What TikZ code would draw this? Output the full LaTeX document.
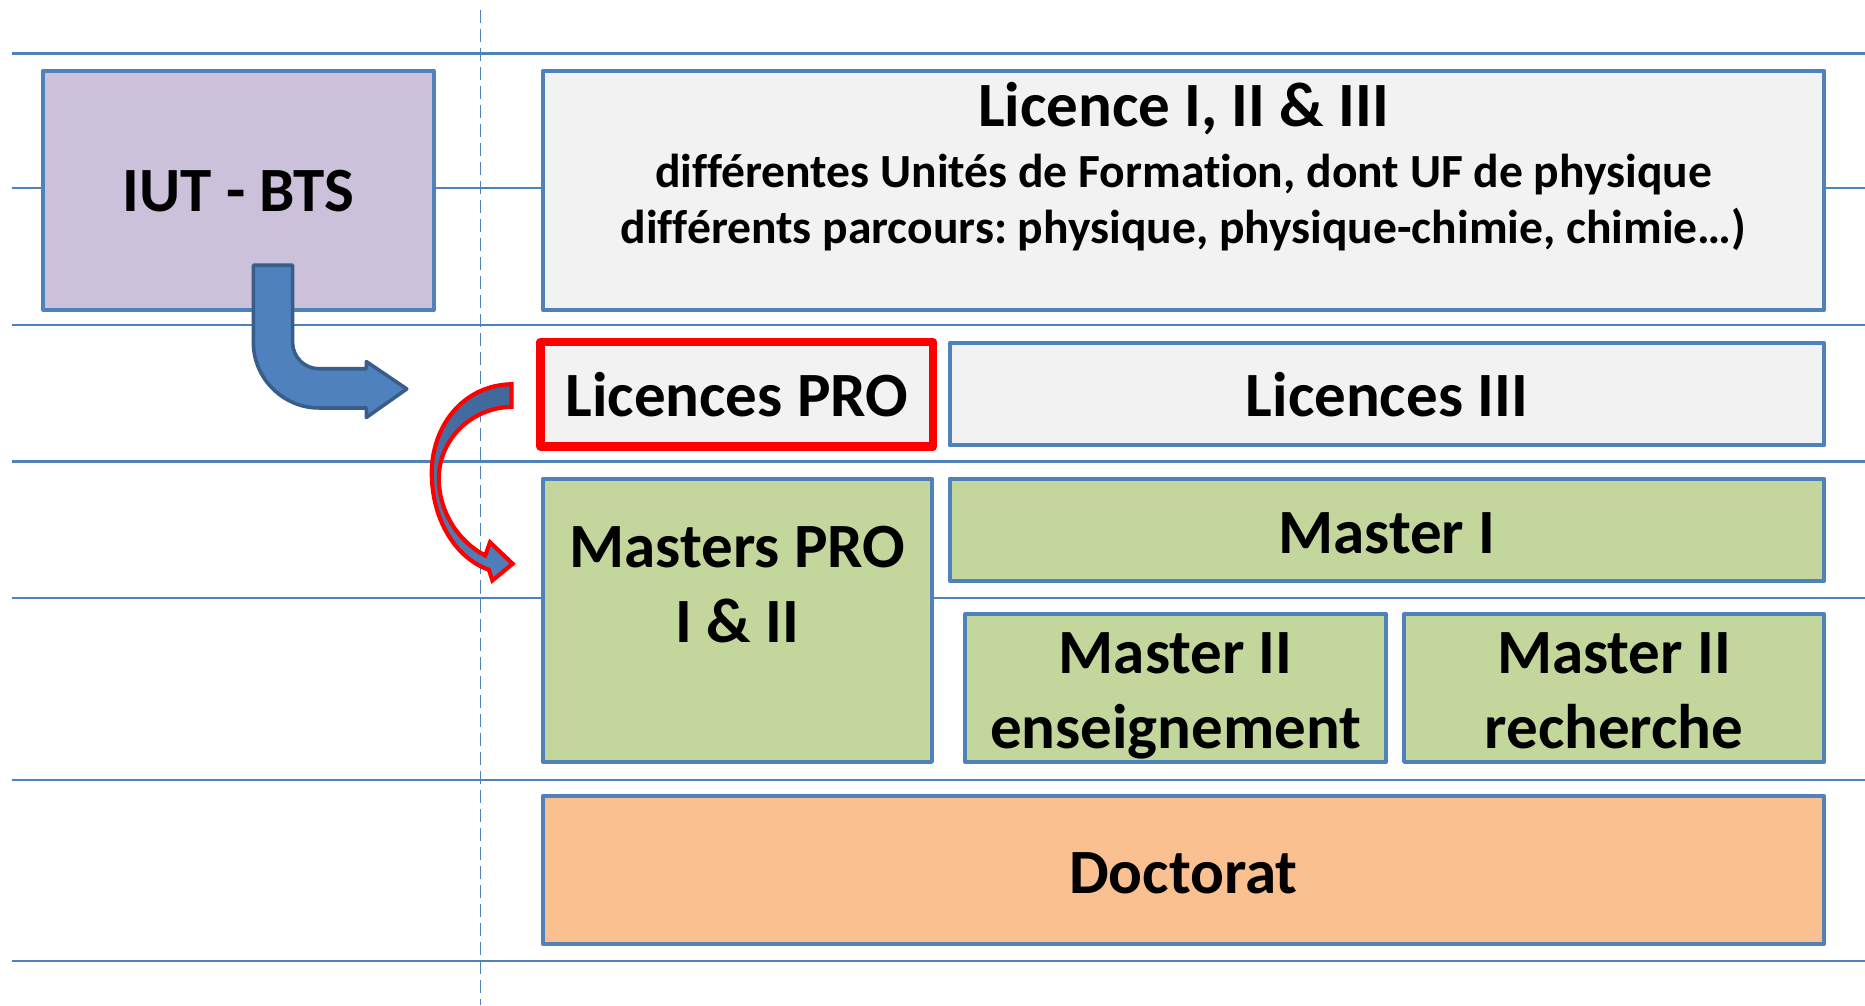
\documentclass[tikz,border=0pt]{standalone}
\usepackage{fontspec}
\setmainfont{Carlito}[Ligatures=NoCommon]
\frenchspacing
\definecolor{lineblue}{HTML}{4F81BD}
\definecolor{darkblue}{HTML}{385D8A}
\definecolor{shadeblue}{HTML}{41679A}
\definecolor{lavender}{HTML}{CCC1DA}
\definecolor{lightgrey}{HTML}{F2F2F2}
\definecolor{boxgreen}{HTML}{C3D69B}
\definecolor{boxorange}{HTML}{FAC090}
\definecolor{pured}{HTML}{FF0000}
\newcommand{\bigtxt}{\bfseries\fontsize{53}{64}\selectfont}
\newcommand{\smalltxt}{\bfseries\fontsize{40}{47}\selectfont}
\begin{document}
\begin{tikzpicture}[x=1pt,y=-1pt,
  gridline/.style={draw=lineblue,line width=2pt},
  levelbox/.style={draw=lineblue,line width=3.4pt,rectangle,inner sep=0pt,line join=round},
  bigtext/.style={font=\bigtxt,inner sep=0pt,anchor=base},
  smalltext/.style={font=\smalltxt,inner sep=0pt,anchor=base},
  bentarrow/.style={fill=lineblue,draw=darkblue,line width=3pt,line join=round},
  curvedarrow/.style={top color=shadeblue,bottom color=lineblue,draw=pured,line width=3.5pt,line join=miter}]
\useasboundingbox (0,0) rectangle (1568,845);
\fill[white] (0,0) rectangle (1568,845);
% horizontal grid lines
\foreach \yy/\nm in {45/ga,158/gb,273/gc,388/gd,503/ge,656/gf,808/gg}{
  \coordinate (\nm l) at (10,\yy);
  \coordinate (\nm r) at (1568,\yy);
  \draw[gridline] (\nm l) -- (\nm r);
}
% dashed vertical line
\coordinate (vtop) at (404,8);
\coordinate (vbot) at (404,845);
\draw[draw=lineblue,line width=1.5pt,dash pattern=on 11pt off 5pt] (vtop) -- (vbot);
% boxes
\node[levelbox,fill=lavender,minimum width=328,minimum height=201] (iut) at (200.5,160) {};
\node[bigtext] (iuttxt) at (200.5,178) {IUT - BTS};
\node[levelbox,fill=lightgrey,minimum width=1077,minimum height=201] (lic) at (995,160) {};
\node[bigtext] (lictxt) at (995,106) {Licence I, II \& III};
\node[smalltext] (licl1) at (995,158) {différentes Unités de Formation, dont UF de physique};
\node[smalltext] (licl2) at (995,205) {différents parcours: physique, physique-chimie, chimie…)};
\node[levelbox,draw=pured,line width=7pt,fill=lightgrey,minimum width=330,minimum height=88] (lpro) at (619.5,331.5) {};
\node[bigtext] (lprotxt) at (619.5,350) {Licences PRO};
\node[levelbox,fill=lightgrey,minimum width=735,minimum height=86] (l3) at (1166,331.5) {};
\node[bigtext] (l3txt) at (1166,350) {Licences III};
\node[levelbox,fill=boxgreen,minimum width=327,minimum height=238] (mpro) at (620,521.5) {};
\node[bigtext] (mprotxt1) at (620,477) {Masters PRO};
\node[bigtext] (mprotxt2) at (620,540) {I \& II};
\node[levelbox,fill=boxgreen,minimum width=735,minimum height=86] (m1) at (1166,445.5) {};
\node[bigtext] (m1txt) at (1166,465) {Master I};
\node[levelbox,fill=boxgreen,minimum width=354,minimum height=124] (m2e) at (988.5,578.5) {};
\node[bigtext] (m2etxt1) at (988.5,566) {Master II};
\node[bigtext] (m2etxt2) at (988.5,629) {enseignement};
\node[levelbox,fill=boxgreen,minimum width=353,minimum height=124] (m2r) at (1357,578.5) {};
\node[bigtext] (m2rtxt1) at (1357,566) {Master II};
\node[bigtext] (m2rtxt2) at (1357,629) {recherche};
\node[levelbox,fill=boxorange,minimum width=1077,minimum height=124] (doc) at (995,731.5) {};
\node[bigtext] (doctxt) at (995,751) {Doctorat};
% blue bent arrow from IUT box
\draw[bentarrow] (213,223) -- (246,223) -- (246,288)
  .. controls (246,300) and (256,310) .. (268,310) -- (308,310) -- (308,304)
  -- (342,327) -- (308,351) -- (308,343) -- (268,343)
  .. controls (238,343) and (213,318) .. (213,288) -- cycle;
% red curved arrow from Licences PRO to Masters PRO
\draw[curvedarrow] (430,323)
  .. controls (388,324) and (362,360) .. (363,400)
  .. controls (364,440) and (385,470) .. (411,479)
  -- (414,488) -- (431,474) -- (412,456) -- (408,467)
  .. controls (386,456) and (368,430) .. (369,400)
  .. controls (370,370) and (395,343) .. (430,342) -- cycle;
\end{tikzpicture}
\end{document}
